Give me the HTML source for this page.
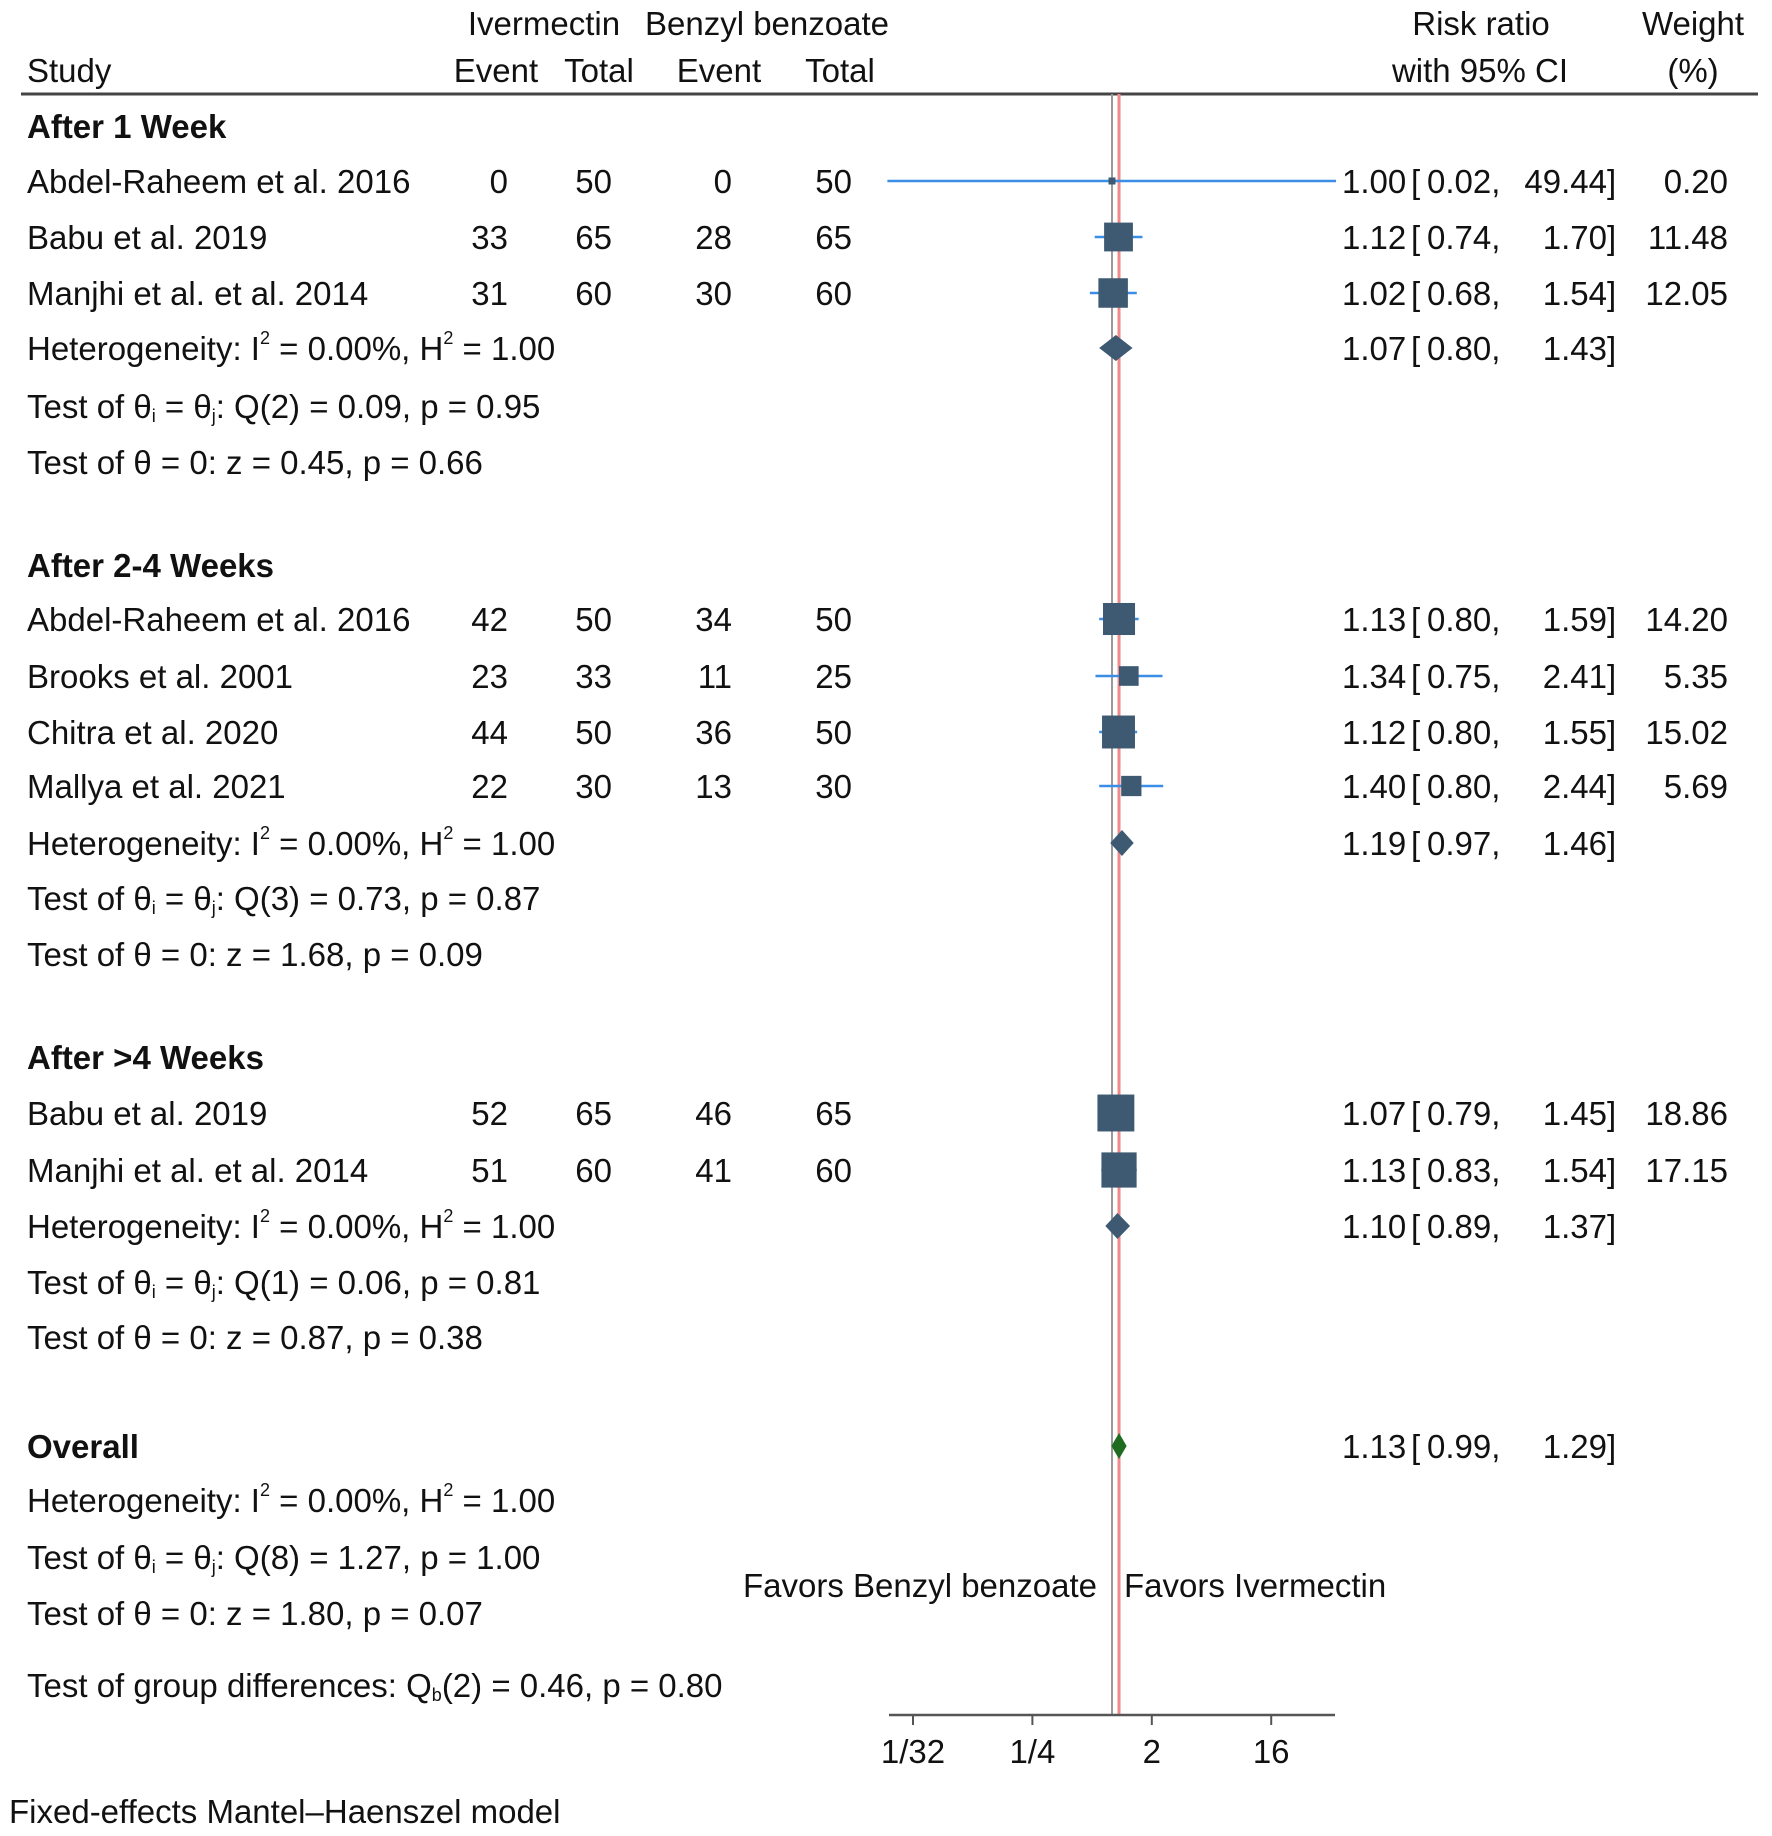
<!DOCTYPE html>
<html><head><meta charset="utf-8"><style>
html,body{margin:0;padding:0;background:#fff;}
svg{display:block;font-family:"Liberation Sans",Arial,sans-serif;}
text{fill:#111;font-size:33px;}
.b{font-weight:bold;}
</style></head><body>
<svg id="chart" width="1772" height="1836" viewBox="0 0 1772 1836" xmlns="http://www.w3.org/2000/svg">
<g>
<text x="544" y="35" text-anchor="middle">Ivermectin</text>
<text x="767" y="35" text-anchor="middle">Benzyl benzoate</text>
<text x="27" y="82">Study</text>
<text x="496" y="82" text-anchor="middle">Event</text>
<text x="599" y="82" text-anchor="middle">Total</text>
<text x="719" y="82" text-anchor="middle">Event</text>
<text x="840" y="82" text-anchor="middle">Total</text>
<text x="1481" y="35" text-anchor="middle">Risk ratio</text>
<text x="1480" y="82" text-anchor="middle">with 95% CI</text>
<text x="1693" y="35" text-anchor="middle">Weight</text>
<text x="1693" y="82" text-anchor="middle">(%)</text>
<line x1="21" y1="94" x2="1758" y2="94" stroke="#444" stroke-width="3"/>
</g>
<g id="lines"></g>
<g id="stats">
<text class="b" x="27" y="138">After 1 Week</text>
<text x="27" y="360">Heterogeneity: I<tspan dy="-16" font-size="18">2</tspan><tspan dy="16"> = 0.00%, H</tspan><tspan dy="-16" font-size="18">2</tspan><tspan dy="16"> = 1.00</tspan></text>
<text x="27" y="418">Test of θ<tspan font-size="18" dy="4">i</tspan><tspan dy="-4"> = θ</tspan><tspan font-size="18" dy="4">j</tspan><tspan dy="-4">: Q(2) = 0.09, p = 0.95</tspan></text>
<text x="27" y="474">Test of θ = 0: z = 0.45, p = 0.66</text>
<text class="b" x="27" y="577">After 2-4 Weeks</text>
<text x="27" y="855">Heterogeneity: I<tspan dy="-16" font-size="18">2</tspan><tspan dy="16"> = 0.00%, H</tspan><tspan dy="-16" font-size="18">2</tspan><tspan dy="16"> = 1.00</tspan></text>
<text x="27" y="910">Test of θ<tspan font-size="18" dy="4">i</tspan><tspan dy="-4"> = θ</tspan><tspan font-size="18" dy="4">j</tspan><tspan dy="-4">: Q(3) = 0.73, p = 0.87</tspan></text>
<text x="27" y="966">Test of θ = 0: z = 1.68, p = 0.09</text>
<text class="b" x="27" y="1069">After &gt;4 Weeks</text>
<text x="27" y="1238">Heterogeneity: I<tspan dy="-16" font-size="18">2</tspan><tspan dy="16"> = 0.00%, H</tspan><tspan dy="-16" font-size="18">2</tspan><tspan dy="16"> = 1.00</tspan></text>
<text x="27" y="1294">Test of θ<tspan font-size="18" dy="4">i</tspan><tspan dy="-4"> = θ</tspan><tspan font-size="18" dy="4">j</tspan><tspan dy="-4">: Q(1) = 0.06, p = 0.81</tspan></text>
<text x="27" y="1349">Test of θ = 0: z = 0.87, p = 0.38</text>
<text class="b" x="27" y="1458">Overall</text>
<text x="27" y="1512">Heterogeneity: I<tspan dy="-16" font-size="18">2</tspan><tspan dy="16"> = 0.00%, H</tspan><tspan dy="-16" font-size="18">2</tspan><tspan dy="16"> = 1.00</tspan></text>
<text x="27" y="1569">Test of θ<tspan font-size="18" dy="4">i</tspan><tspan dy="-4"> = θ</tspan><tspan font-size="18" dy="4">j</tspan><tspan dy="-4">: Q(8) = 1.27, p = 1.00</tspan></text>
<text x="27" y="1625">Test of θ = 0: z = 1.80, p = 0.07</text>
<text x="27" y="1697">Test of group differences: Q<tspan font-size="18" dy="4">b</tspan><tspan dy="-4">(2) = 0.46, p = 0.80</tspan></text>
<text x="9" y="1823">Fixed-effects Mantel–Haenszel model</text>
<text x="1097" y="1597" text-anchor="end">Favors Benzyl benzoate</text>
<text x="1124" y="1597">Favors Ivermectin</text>
</g>
<g id="marks"></g>
<g id="axis"></g>
</svg>
<script>
// study data
const studyNames = ["Abdel-Raheem et al. 2016","Babu et al. 2019","Manjhi et al. et al. 2014","Abdel-Raheem et al. 2016","Brooks et al. 2001","Chitra et al. 2020","Mallya et al. 2021","Babu et al. 2019","Manjhi et al. et al. 2014"];
const ivmEvent = [0,33,31,42,23,44,22,52,51];
const ivmTotal = [50,65,60,50,33,50,30,65,60];
const bbEvent = [0,28,30,34,11,36,13,46,41];
const bbTotal = [50,65,60,50,25,50,30,65,60];
const rr = [1.00,1.12,1.02,1.13,1.34,1.12,1.40,1.07,1.13];
const lower = [0.02,0.74,0.68,0.80,0.75,0.80,0.80,0.79,0.83];
const upper = [49.44,1.70,1.54,1.59,2.41,1.55,2.44,1.45,1.54];
const weights = [0.20,11.48,12.05,14.20,5.35,15.02,5.69,18.86,17.15];
// pooled estimates (3 subgroups + overall)
const pooledRR = [1.07,1.19,1.10,1.13];
const pooledLo = [0.80,0.97,0.89,0.99];
const pooledHi = [1.43,1.46,1.37,1.29];
// axis ticks
const tickValues = [1/32,1/4,2,16];
const tickLabels = ["1/32","1/4","2","16"];

// layout (row slot y centers)
const studyRowY = [181,237,293,619,676,732,786,1113,1170];
const pooledRowY = [348,843,1226,1446];

const NS="http://www.w3.org/2000/svg";
const X0=1112, PX=39.8;
function xs(v){return X0+Math.log2(v)*PX;}
function el(tag,attrs,parent,txt){const e=document.createElementNS(NS,tag);for(const k in attrs)e.setAttribute(k,attrs[k]);if(txt!==undefined)e.textContent=txt;parent.appendChild(e);return e;}
const marks=document.getElementById('marks');
const lines=document.getElementById('lines');
const axis=document.getElementById('axis');
function fmt(v){return v.toFixed(2);}
function ciText(y,r,lo,hi,name){
  const g=el('g',{},marks);
  
  
  el('text',{x:1342,y:y+12},g,fmt(r));
  el('text',{x:1411,y:y+12},g,"[");
  el('text',{x:1427,y:y+12},g,fmt(lo)+",");
  el('text',{x:1607,y:y+12,'text-anchor':'end'},g,fmt(hi));
  el('text',{x:1607,y:y+12},g,"]");
}
const nl=el('line',{x1:xs(1),y1:94,x2:xs(1),y2:1715,stroke:'#9a9a9a','stroke-width':2},lines);


const ol=el('line',{x1:xs(pooledRR[3]),y1:94,x2:xs(pooledRR[3]),y2:1715,stroke:'#f08a8a','stroke-width':3},lines);



for(let i=0;i<studyNames.length;i++){
  const y=studyRowY[i];
  const g=el('g',{},marks);
  
  
  el('text',{x:27,y:y+12},g,studyNames[i]);
  el('text',{x:508,y:y+12,'text-anchor':'end'},g,ivmEvent[i]);
  el('text',{x:612,y:y+12,'text-anchor':'end'},g,ivmTotal[i]);
  el('text',{x:732,y:y+12,'text-anchor':'end'},g,bbEvent[i]);
  el('text',{x:852,y:y+12,'text-anchor':'end'},g,bbTotal[i]);
  const ci=el('line',{x1:xs(lower[i]),y1:y,x2:xs(upper[i]),y2:y,stroke:'#3a8ee6','stroke-width':2.5},g);
  
  
  const s=Math.max(7,8.5*Math.sqrt(weights[i]));
  const sq=el('rect',{x:xs(rr[i])-s/2,y:y-s/2,width:s,height:s,fill:'#3d5a72'},g);
  
  
  ciText(y,rr[i],lower[i],upper[i],'ci-text-'+(i+1));
  const w=el('text',{x:1728,y:y+12,'text-anchor':'end'},g,fmt(weights[i]));
  
  
}
for(let j=0;j<pooledRR.length;j++){
  const y=pooledRowY[j], h=13;
  const d=el('polygon',{points:`${xs(pooledLo[j])},${y} ${xs(pooledRR[j])},${y-h} ${xs(pooledHi[j])},${y} ${xs(pooledRR[j])},${y+h}`,fill:j==3?'#1f6b1f':'#3d5a72'},marks);
  
  
  ciText(y,pooledRR[j],pooledLo[j],pooledHi[j],'pooled-ci-text-'+(j+1));
}
const ax=el('line',{x1:889,y1:1715,x2:1335,y2:1715,stroke:'#555','stroke-width':2.5},axis);


for(let k=0;k<tickValues.length;k++){
  const x=xs(tickValues[k]);
  const t=el('line',{x1:x,y1:1715,x2:x,y2:1725,stroke:'#555','stroke-width':2},axis);
  
  
  const l=el('text',{x:x,y:1763,'text-anchor':'middle'},axis,tickLabels[k]);
  
  
}
</script>
</body></html>
